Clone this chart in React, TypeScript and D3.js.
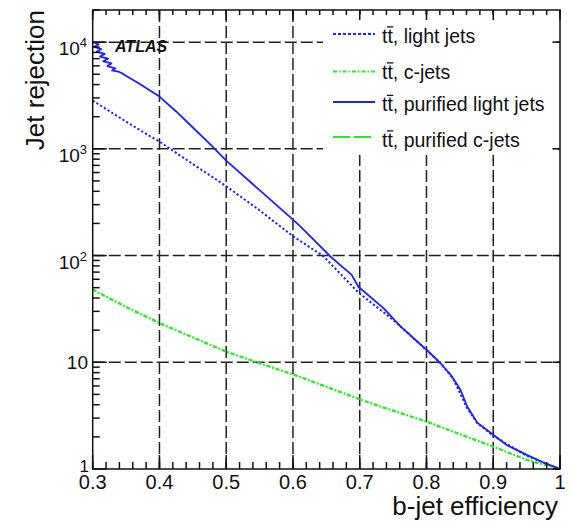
import React from 'react';
import * as d3 from 'd3';

const W = 571;
const H = 523;
const FONT = '"Liberation Sans", Arial, Helvetica, sans-serif';

// ttbar, light jets
const effLight = [0.3, 0.35, 0.386, 0.4, 0.45, 0.5, 0.55, 0.6, 0.646, 0.698, 0.75, 0.8, 0.82, 0.84, 0.86, 0.876, 0.9, 0.95, 1.0];
const rejLight = [2830, 1800, 1312, 1170, 720, 447, 265, 152, 98, 45, 25, 13, 10, 7.0, 3.8, 2.7, 2.05, 1.33, 1.0];

// ttbar, c-jets
const effC = [0.3, 0.35, 0.4, 0.45, 0.5, 0.55, 0.6, 0.65, 0.7, 0.731, 0.8, 0.85, 0.9, 0.95, 1.0];
const rejC = [48, 33, 23.3, 17.1, 12.6, 9.8, 7.7, 5.9, 4.5, 3.85, 2.78, 2.12, 1.62, 1.22, 1.0];

// ttbar, purified light jets (low-efficiency end fluctuates in a fine sawtooth)
const effPurLight = [0.3, 0.309, 0.302, 0.313, 0.306, 0.318, 0.311, 0.323, 0.316, 0.328, 0.322, 0.334, 0.329, 0.34, 0.346, 0.37, 0.4, 0.425, 0.45, 0.475, 0.5, 0.55, 0.6, 0.611, 0.656, 0.688, 0.698, 0.736, 0.761, 0.8, 0.821, 0.838, 0.851, 0.861, 0.876, 0.9, 0.92, 0.951, 0.975, 1.0];
const rejPurLight = [10000, 9550, 9020, 8610, 8130, 7760, 7330, 7000, 6610, 6310, 5960, 5690, 5430, 5250, 5010, 4070, 3090, 2240, 1585, 1120, 776, 410, 217, 188, 98, 66, 51, 32, 21.7, 13.1, 9.8, 7.4, 5.5, 3.85, 2.72, 2.09, 1.68, 1.35, 1.15, 1.0];

// ttbar, purified c-jets
const effPurC = [0.3, 0.35, 0.4, 0.45, 0.5, 0.55, 0.6, 0.65, 0.7, 0.731, 0.8, 0.85, 0.9, 0.95, 1.0];
const rejPurC = [48, 33, 23.3, 17.1, 12.6, 9.8, 7.7, 5.9, 4.5, 3.85, 2.78, 2.12, 1.62, 1.22, 1.0];

const xMajor = [0.3, 0.4, 0.5, 0.6, 0.7, 0.8, 0.9, 1.0];
const xMajorLabels = ['0.3', '0.4', '0.5', '0.6', '0.7', '0.8', '0.9', '1'];
const yDecades = [1, 10, 100, 1000, 10000];
const yDecadeExp = [0, 1, 2, 3, 4];

const legendLabels = [', light jets', ', c-jets', ', purified light jets', ', purified c-jets'];

const BLUE = '#1f1fff';
const GREEN = '#22ee22';

export default function App() {
  const x = d3.scaleLinear().domain([0.3, 1.0]).range([92.7, 560]);
  const y = d3.scaleLog().domain([1, 2e4]).range([469, 10]);
  const [x0, x1] = x.range();
  const [yb, yt] = y.range();

  const line = d3
    .line<[number, number]>()
    .x((d) => x(d[0]))
    .y((d) => y(d[1]));

  const zip = (a: number[], b: number[]) => a.map((v, i) => [v, b[i]] as [number, number]);

  const series = [
    { d: zip(effPurC, rejPurC), color: GREEN, dash: '4,2,1.5,2', w: 2 },
    { d: zip(effC, rejC), color: GREEN, dash: '4,2,1.5,2', w: 2 },
    { d: zip(effLight, rejLight), color: BLUE, dash: '2.2,2.2', w: 2 },
    { d: zip(effPurLight, rejPurLight), color: BLUE, dash: undefined, w: 1.8 },
  ];

  const legendItems = [
    { label: legendLabels[0], color: BLUE, dash: '3,2', w: 2, ly: 34, ty: 42.5 },
    { label: legendLabels[1], color: GREEN, dash: '4,2,1.5,2', w: 2, ly: 71.5, ty: 78.5 },
    { label: legendLabels[2], color: BLUE, dash: undefined, w: 2, ly: 102, ty: 111 },
    { label: legendLabels[3], color: GREEN, dash: '17,4', w: 2, ly: 137, ty: 146.5 },
  ];
  const legFs = 19.5;
  const legX = 382;

  const xMinor = d3.range(0, 36).map((i) => +(0.3 + i * 0.02).toFixed(2));
  const yMinor: number[] = [];
  for (let k = 0; k <= 4; k++) {
    for (let m = 2; m <= 9; m++) {
      const v = m * Math.pow(10, k);
      if (v <= 2e4) yMinor.push(v);
    }
  }

  const gridX = xMajor.slice(1, -1);
  const gridY = yDecades.slice(1);

  return (
    <svg
      width={W}
      height={H}
      viewBox={`0 0 ${W} ${H}`}
      style={{ position: 'absolute', left: 0, top: 0, background: '#fff' }}
      fontFamily={FONT}
    >
      <defs>
        <clipPath id="plotArea">
          <rect x={x0} y={yt} width={x1 - x0} height={yb - yt} />
        </clipPath>
      </defs>

      {/* dashed grid */}
      <g stroke="#222" strokeWidth={1.5} strokeDasharray="12,4">
        {gridX.map((v) => (
          <line key={`gx${v}`} x1={x(v)} x2={x(v)} y1={yt} y2={yb} />
        ))}
        {gridY.map((v) => (
          <line key={`gy${v}`} x1={x0} x2={x1} y1={y(v)} y2={y(v)} />
        ))}
      </g>

      {/* efficiency curves */}
      <g clipPath="url(#plotArea)" fill="none" strokeLinejoin="round">
        {series.map((s, i) => (
          <path
            key={i}
            d={line(s.d) || ''}
            stroke={s.color}
            strokeWidth={s.w}
            strokeDasharray={s.dash}
          />
        ))}
      </g>

      <text x={115} y={51.5} fontSize={16} fontStyle="italic" fontWeight="bold" fill="#111">
        ATLAS
      </text>

      {/* legend */}
      <rect x={323} y={14} width={229} height={141} fill="#fff" />
      {legendItems.map((it, i) => (
        <g key={i}>
          <line
            x1={333}
            x2={375}
            y1={it.ly}
            y2={it.ly}
            stroke={it.color}
            strokeWidth={it.w}
            strokeDasharray={it.dash}
          />
          <text x={legX} y={it.ty} fontSize={legFs} fill="#111">
            tt{it.label}
          </text>
          {/* bar over the second t of tt */}
          <line
            x1={legX + 0.278 * legFs - 0.5}
            x2={legX + 0.556 * legFs + 0.5}
            y1={it.ty - 0.8 * legFs}
            y2={it.ty - 0.8 * legFs}
            stroke="#111"
            strokeWidth={1.3}
          />
        </g>
      ))}

      {/* frame */}
      <rect x={x0} y={yt} width={x1 - x0} height={yb - yt} fill="none" stroke="#111" strokeWidth={1.5} />

      {/* ticks */}
      <g stroke="#111" strokeWidth={1.5}>
        {xMinor.map((v) => (
          <g key={`xt${v}`}>
            <line x1={x(v)} x2={x(v)} y1={yb} y2={yb - 7} />
            <line x1={x(v)} x2={x(v)} y1={yt} y2={yt + 5} />
          </g>
        ))}
        {xMajor.map((v) => (
          <g key={`xM${v}`}>
            <line x1={x(v)} x2={x(v)} y1={yb} y2={yb - 14} />
            <line x1={x(v)} x2={x(v)} y1={yt} y2={yt + 10} />
          </g>
        ))}
        {yMinor.map((v) => (
          <line key={`ym${v}`} x1={x0} x2={x0 + 7} y1={y(v)} y2={y(v)} />
        ))}
        {yDecades.map((v) => (
          <g key={`yM${v}`}>
            <line x1={x0} x2={x0 + 14} y1={y(v)} y2={y(v)} />
            <line x1={x1} x2={x1 - 7} y1={y(v)} y2={y(v)} />
          </g>
        ))}
      </g>

      {/* x tick labels */}
      {xMajor.map((v, i) => (
        <text key={`xl${v}`} x={x(v)} y={489} fontSize={20} textAnchor="middle" fill="#111">
          {xMajorLabels[i]}
        </text>
      ))}

      {/* y tick labels */}
      {yDecades.map((v, i) => {
        const e = yDecadeExp[i];
        if (e === 0)
          return (
            <text key={`yl${v}`} x={89} y={y(v) + 3} fontSize={17} textAnchor="end" fill="#111">
              1
            </text>
          );
        if (e === 1)
          return (
            <text key={`yl${v}`} x={88} y={y(v) + 7} fontSize={19} textAnchor="end" fill="#111">
              10
            </text>
          );
        return (
          <text key={`yl${v}`} x={87} y={y(v) + 13} fontSize={19} textAnchor="end" fill="#111">
            10
            <tspan fontSize={13} dy={-8}>
              {e}
            </tspan>
          </text>
        );
      })}

      {/* axis titles */}
      <text x={558} y={515} fontSize={26} textAnchor="end" fill="#111">
        b-jet efficiency
      </text>
      <text transform="translate(44,10) rotate(-90)" fontSize={26} textAnchor="end" fill="#111">
        Jet rejection
      </text>
    </svg>
  );
}
